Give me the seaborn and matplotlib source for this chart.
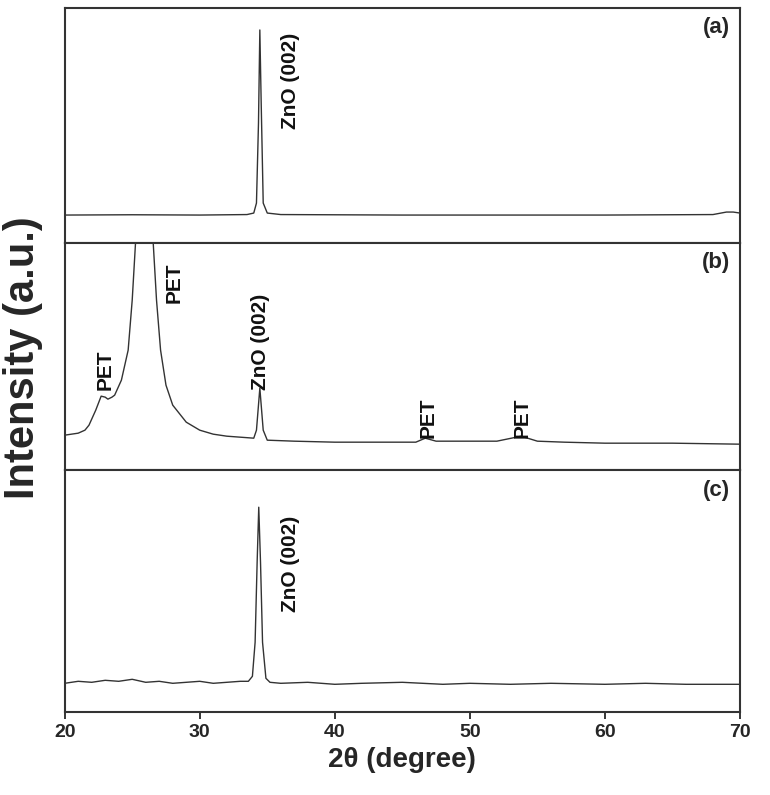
import numpy as np
import pandas as pd
import matplotlib.pyplot as plt
import seaborn as sns

# 2theta / intensity key points (arbitrary units per panel)
a_x = [20, 25, 30, 33.5, 34.0, 34.2, 34.35, 34.45, 34.55, 34.7, 35, 36, 45, 60, 68, 69, 69.5, 70]
a_y = [28, 28.3, 28, 28.5, 30, 40, 120, 213, 140, 40, 30, 28.5, 28, 28, 28.5, 31, 31, 30]

b_x = [20, 20.5, 21, 21.5, 21.8, 22.3, 22.7, 23.0, 23.2, 23.5, 23.7, 24.2, 24.7, 25.0, 25.3, 26.5,
       26.8, 27.1, 27.5, 28, 29, 30, 31, 32, 33, 34, 34.2, 34.45, 34.7, 35, 37, 40, 43, 46,
       46.7, 47.5, 50, 52, 53.8, 55, 57, 60, 65, 70]
b_y = [35, 36, 37, 40, 45, 60, 74, 73, 71, 73, 75, 90, 120, 170, 240, 240,
       170, 120, 85, 65, 48, 40, 36, 34, 33, 32, 40, 82, 40, 30, 29, 28, 28, 28,
       32, 29, 29, 29, 34, 29, 28, 27, 27, 26]

c_x = [20, 21, 22, 23, 24, 25, 26, 27, 28, 29, 30, 31, 32, 33, 33.6, 33.9, 34.1, 34.25, 34.37,
       34.5, 34.65, 34.9, 35.2, 36, 38, 40, 42, 45, 48, 50, 53, 56, 60, 63, 66, 70]
c_y = [29, 31, 30, 32, 31, 33, 30, 31, 29, 30, 31, 29, 30, 31, 31, 36, 70, 150, 205,
       150, 70, 34, 30, 29, 30, 28, 29, 30, 28, 29, 28, 29, 28, 29, 28, 28]

panels = [
    (a_x, a_y, "(a)", 235, [(36.7, 162, "ZnO (002)")]),
    (b_x, b_y, "(b)", 227, [(23.0, 100, "PET"), (28.1, 187, "PET"), (34.5, 128, "ZnO (002)"),
                            (46.9, 52, "PET"), (53.9, 52, "PET")]),
    (c_x, c_y, "(c)", 242, [(36.7, 148, "ZnO (002)")]),
]

sns.set_theme(style="ticks")
plt.rcParams['font.family'] = ['Liberation Sans', 'DejaVu Sans']

fig, axes = plt.subplots(3, 1, figsize=(7.7, 7.95), dpi=100, sharex=True,
                         gridspec_kw={'height_ratios': [p[3] for p in panels]})
fig.subplots_adjust(left=0.084, right=0.961, top=0.99, bottom=0.104, hspace=0)

for ax, (xs, ys, tag, top, notes) in zip(axes, panels):
    df = pd.DataFrame({'x': xs, 'y': ys})
    sns.lineplot(data=df, x='x', y='y', ax=ax, color='#333333', linewidth=1.0,
                 estimator=None, sort=False)
    ax.set_xlim(20, 70)
    ax.set_ylim(0, top)
    ax.set_yticks([])
    ax.set_ylabel("")
    ax.set_xlabel("")
    for s in ax.spines.values():
        s.set_linewidth(1.5)
        s.set_color('#333333')
    ax.text(0.985, 0.96, tag, transform=ax.transAxes, ha='right', va='top',
            fontsize=16, fontweight='bold')
    for x, y, t in notes:
        ax.text(x, y, t, rotation=90, ha='center', va='center', fontsize=15,
                fontweight='bold', color='#111111')
    ax.tick_params(axis='x', direction='out', length=5, width=1.3)

axes[-1].set_xticks([20, 30, 40, 50, 60, 70])
for lab in axes[-1].get_xticklabels():
    lab.set_fontweight('bold')
    lab.set_fontsize(14)
axes[-1].set_xlabel("2θ (degree)", fontsize=20, fontweight='bold')
fig.text(0.03, 0.55, "Intensity (a.u.)", rotation=90, ha='center', va='center',
         fontsize=30, fontweight='bold', family=['Liberation Sans Narrow', 'Liberation Sans'])

plt.savefig("out.png", dpi=100)
